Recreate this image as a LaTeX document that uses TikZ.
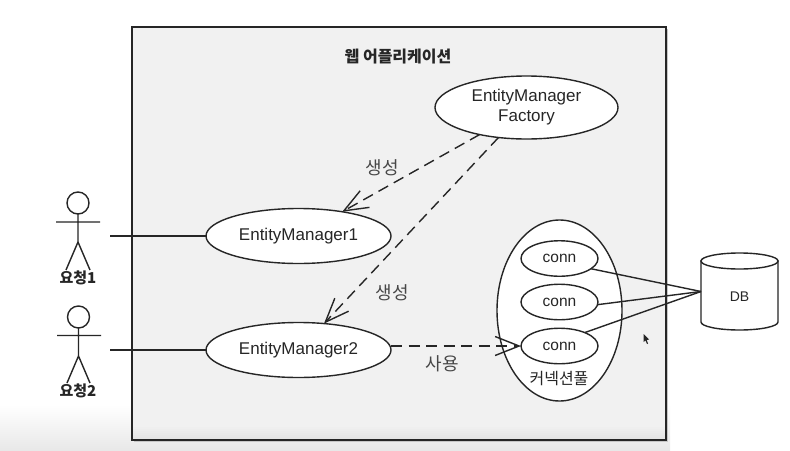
\documentclass[tikz,border=0pt]{standalone}
\usepackage{fontspec}
\setmainfont{Liberation Sans}
\newfontfamily\kr{Noto Sans CJK KR}
\usetikzlibrary{shapes.geometric,arrows.meta}
\definecolor{ink}{HTML}{262626}
\definecolor{boxfill}{HTML}{F1F1F1}
\tikzset{
  x=1pt,y=-1pt,
  every node/.style={inner sep=0pt,outer sep=0pt,text=ink},
  usecase/.style={ellipse,draw=ink,fill=white,line width=1.4pt,font=\fontsize{17}{20}\selectfont,align=center},
  entity/.style={usecase,minimum width=185pt,minimum height=55pt},
  connnode/.style={usecase,minimum width=77pt,minimum height=35.5pt,font=\fontsize{15.5}{18}\selectfont},
  wire/.style={draw=ink,line width=1.4pt},
  dep/.style={wire,dash pattern=on 11pt off 6.5pt,-{Straight Barb[length=24pt,width=19pt,line width=1.4pt]}},
  klabel/.style={font=\kr\fontsize{18}{21}\selectfont,text=ink!85},
  actorname/.style={font=\kr\bfseries\fontsize{15}{18}\selectfont},
  head/.style={circle,draw=ink,fill=white,line width=1.4pt,minimum size=22pt},
}
\begin{document}
\begin{tikzpicture}
\useasboundingbox (0,0) rectangle (790,450);
\fill[white] (0,0) rectangle (790,450);
\shade[top color=white,bottom color=black!9,draw=none] (0,405) rectangle (670,450);
% application box
\fill[black!22] (134,29) rectangle (668,442);
\node[draw=ink,fill=boxfill,line width=1.6pt,minimum width=534pt,minimum height=413pt] (app) at (399,233.5) {};
\foreach \i in {1,...,7}{\fill[black,opacity=0.007] (133,{425+2*\i}) rectangle (665,439.3);}
\node[font=\kr\bfseries\fontsize{16}{19}\selectfont] (title) at (398,57) {웹 어플리케이션};
% actors
\node[head] (head1) at (78,203) {};
\node[head] (head2) at (78.5,317) {};
\coordinate (hip1) at (78,242);
\coordinate (hip2) at (78.5,356);
\coordinate (armL1) at (56,222);
\coordinate (armR1) at (100,222);
\coordinate (armL2) at (57,335.5);
\coordinate (armR2) at (101,335.5);
\coordinate (footL1) at (66,270);
\coordinate (footR1) at (90,270);
\coordinate (footL2) at (67,383);
\coordinate (footR2) at (90,383);
\node[actorname] (user1) at (78,278) {요청1};
\node[actorname] (user2) at (78,391) {요청2};
\draw[wire] (head1) -- (hip1) (armL1) -- (armR1) (footL1) -- (hip1) -- (footR1);
\draw[wire] (head2) -- (hip2) (armL2) -- (armR2) (footL2) -- (hip2) -- (footR2);
% use cases
\node[usecase,minimum width=183pt,minimum height=63pt] (factory) at (526.5,107.5) {EntityManager\\Factory};
\node[entity] (em1) at (298.5,236) {EntityManager1};
\node[entity] (em2) at (298.5,350) {EntityManager2};
\node[ellipse,draw=ink,fill=white,line width=1.4pt,minimum width=125pt,minimum height=181pt] (pool) at (559.5,310.5) {};
\node[connnode] (conn1) at (559.5,258.5) {conn};
\node[connnode] (conn2) at (559.5,302) {conn};
\node[connnode] (conn3) at (559.5,346) {conn};
\node[font=\kr\fontsize{16}{19}\selectfont] (poolname) at (559,379) {커넥션풀};
% database
\draw[wire,fill=white] (701,261) -- (701,322) arc[start angle=180,end angle=360,x radius=38.5pt,y radius=8pt] -- (778,261) -- cycle;
\draw[wire,fill=white] (739.5,261) ellipse [x radius=38.5pt,y radius=8pt];
\node[minimum width=77pt,minimum height=77pt] (db) at (739.5,291.5) {};
\node[font=\fontsize{14}{16}\selectfont] (dbname) at (739.5,297) {DB};
% connectors
\coordinate (free1) at (110,236);
\coordinate (free2) at (110,350);
\draw[wire] (free1) -- (em1);
\draw[wire] (free2) -- (em2);
\draw[dep] (factory.210) -- (em1.29);
\draw[dep] (factory.227) -- (em2.46);
\draw[dep] (em2.east |- conn3.west) -- (conn3.west);
\draw[wire] (conn1.-18) -- (db.west);
\draw[wire] (conn2.-4) -- (db.west);
\draw[wire] (conn3.28) -- (db.west);
\node[klabel] (made1) at (382,168) {생성};
\node[klabel] (made2) at (392,293) {생성};
\node[klabel] (used) at (442,364) {사용};
% mouse pointer
\fill[ink] (643.5,334) -- (643.5,342) -- (645.5,340.5) -- (647,344) -- (648,343.5) -- (646.8,340) -- (649,339.5) -- cycle;
\end{tikzpicture}
\end{document}
